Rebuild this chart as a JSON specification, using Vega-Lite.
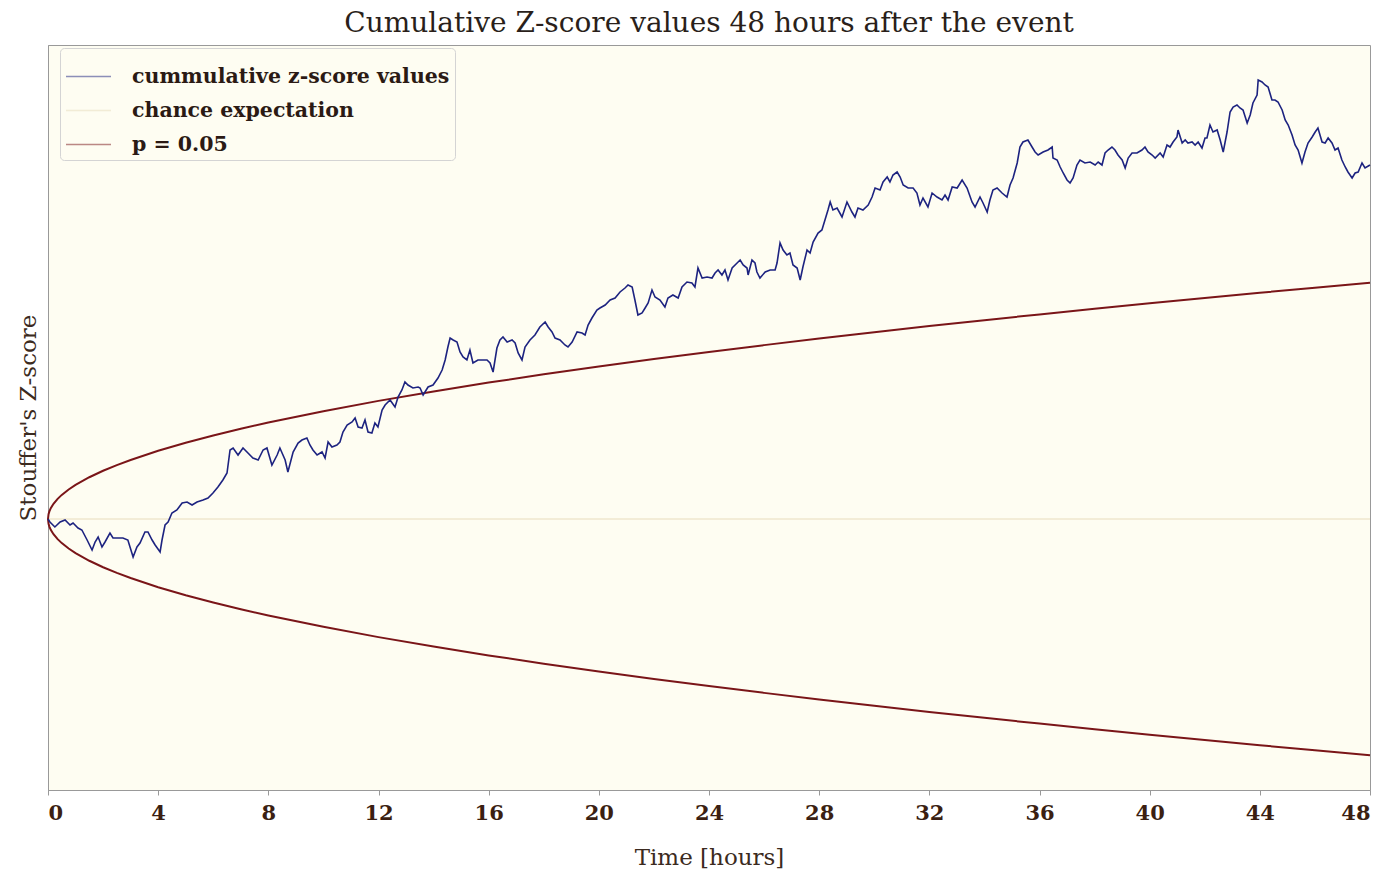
{
  "$schema": "https://vega.github.io/schema/vega-lite/v6.json",
  "width": 1322,
  "height": 745,
  "autosize": {"type": "none"},
  "padding": {"left": 48, "top": 45, "right": 19, "bottom": 82},
  "background": "#ffffff",
  "title": {"text": "Cumulative Z-score values 48 hours after the event", "font": "DejaVu Serif", "fontSize": 28, "fontWeight": "normal", "color": "#2a1f1a", "offset": 7, "anchor": "middle"},
  "config": {
    "view": {"fill": "#fefdf2", "stroke": "#999999", "strokeWidth": 1},
    "axis": {"grid": false}
  },
  "datasets": {
    "chance": [{"t": 0, "z": 0}, {"t": 48, "z": 0}],
    "env": [
      {"t": 0, "z": 0, "b": "u"}, {"t": 0.02, "z": 4.82, "b": "u"}, {"t": 0.05, "z": 7.62, "b": "u"}, {"t": 0.1, "z": 10.78, "b": "u"}, {"t": 0.2, "z": 15.25, "b": "u"}, {"t": 0.35, "z": 20.17, "b": "u"}, {"t": 0.5, "z": 24.11, "b": "u"}, {"t": 0.75, "z": 29.53, "b": "u"}, {"t": 1, "z": 34.1, "b": "u"}, {"t": 1.5, "z": 41.76, "b": "u"}, {"t": 2, "z": 48.22, "b": "u"}, {"t": 2.5, "z": 53.92, "b": "u"}, {"t": 3, "z": 59.06, "b": "u"}, {"t": 4, "z": 68.2, "b": "u"}, {"t": 5, "z": 76.25, "b": "u"}, {"t": 6, "z": 83.53, "b": "u"}, {"t": 7, "z": 90.22, "b": "u"}, {"t": 8, "z": 96.45, "b": "u"}, {"t": 10, "z": 107.83, "b": "u"}, {"t": 12, "z": 118.13, "b": "u"}, {"t": 14, "z": 127.59, "b": "u"}, {"t": 16, "z": 136.4, "b": "u"}, {"t": 18, "z": 144.67, "b": "u"}, {"t": 20, "z": 152.5, "b": "u"}, {"t": 22, "z": 159.94, "b": "u"}, {"t": 24, "z": 167.06, "b": "u"}, {"t": 26, "z": 173.88, "b": "u"}, {"t": 28, "z": 180.44, "b": "u"}, {"t": 30, "z": 186.77, "b": "u"}, {"t": 32, "z": 192.9, "b": "u"}, {"t": 34, "z": 198.84, "b": "u"}, {"t": 36, "z": 204.6, "b": "u"}, {"t": 38, "z": 210.21, "b": "u"}, {"t": 40, "z": 215.67, "b": "u"}, {"t": 42, "z": 220.99, "b": "u"}, {"t": 44, "z": 226.19, "b": "u"}, {"t": 46, "z": 231.28, "b": "u"}, {"t": 48, "z": 236.25, "b": "u"},
      {"t": 0, "z": 0, "b": "l"}, {"t": 0.02, "z": -4.82, "b": "l"}, {"t": 0.05, "z": -7.62, "b": "l"}, {"t": 0.1, "z": -10.78, "b": "l"}, {"t": 0.2, "z": -15.25, "b": "l"}, {"t": 0.35, "z": -20.17, "b": "l"}, {"t": 0.5, "z": -24.11, "b": "l"}, {"t": 0.75, "z": -29.53, "b": "l"}, {"t": 1, "z": -34.1, "b": "l"}, {"t": 1.5, "z": -41.76, "b": "l"}, {"t": 2, "z": -48.22, "b": "l"}, {"t": 2.5, "z": -53.92, "b": "l"}, {"t": 3, "z": -59.06, "b": "l"}, {"t": 4, "z": -68.2, "b": "l"}, {"t": 5, "z": -76.25, "b": "l"}, {"t": 6, "z": -83.53, "b": "l"}, {"t": 7, "z": -90.22, "b": "l"}, {"t": 8, "z": -96.45, "b": "l"}, {"t": 10, "z": -107.83, "b": "l"}, {"t": 12, "z": -118.13, "b": "l"}, {"t": 14, "z": -127.59, "b": "l"}, {"t": 16, "z": -136.4, "b": "l"}, {"t": 18, "z": -144.67, "b": "l"}, {"t": 20, "z": -152.5, "b": "l"}, {"t": 22, "z": -159.94, "b": "l"}, {"t": 24, "z": -167.06, "b": "l"}, {"t": 26, "z": -173.88, "b": "l"}, {"t": 28, "z": -180.44, "b": "l"}, {"t": 30, "z": -186.77, "b": "l"}, {"t": 32, "z": -192.9, "b": "l"}, {"t": 34, "z": -198.84, "b": "l"}, {"t": 36, "z": -204.6, "b": "l"}, {"t": 38, "z": -210.21, "b": "l"}, {"t": 40, "z": -215.67, "b": "l"}, {"t": 42, "z": -220.99, "b": "l"}, {"t": 44, "z": -226.19, "b": "l"}, {"t": 46, "z": -231.28, "b": "l"}, {"t": 48, "z": -236.25, "b": "l"}
    ],
    "walk": [
      {"t": 0, "z": 0}, {"t": 0.07, "z": -3}, {"t": 0.25, "z": -8}, {"t": 0.44, "z": -3}, {"t": 0.62, "z": -1}, {"t": 0.8, "z": -6}, {"t": 0.91, "z": -4}, {"t": 1.09, "z": -9}, {"t": 1.23, "z": -11}, {"t": 1.42, "z": -21}, {"t": 1.6, "z": -31}, {"t": 1.71, "z": -23}, {"t": 1.82, "z": -18}, {"t": 1.96, "z": -28}, {"t": 2.07, "z": -23}, {"t": 2.25, "z": -14}, {"t": 2.36, "z": -19}, {"t": 2.54, "z": -19}, {"t": 2.72, "z": -19}, {"t": 2.9, "z": -21}, {"t": 3.09, "z": -38}, {"t": 3.23, "z": -28}, {"t": 3.34, "z": -24}, {"t": 3.52, "z": -13}, {"t": 3.63, "z": -13}, {"t": 3.78, "z": -21}, {"t": 3.89, "z": -26}, {"t": 4.07, "z": -33}, {"t": 4.14, "z": -21}, {"t": 4.25, "z": -6}, {"t": 4.36, "z": -3}, {"t": 4.5, "z": 6}, {"t": 4.68, "z": 9}, {"t": 4.87, "z": 16}, {"t": 5.05, "z": 17}, {"t": 5.23, "z": 14}, {"t": 5.41, "z": 17}, {"t": 5.63, "z": 19}, {"t": 5.81, "z": 21}, {"t": 5.99, "z": 26}, {"t": 6.17, "z": 32}, {"t": 6.35, "z": 39}, {"t": 6.5, "z": 46},
      {"t": 6.61, "z": 69}, {"t": 6.72, "z": 71}, {"t": 6.9, "z": 64}, {"t": 7.08, "z": 71}, {"t": 7.26, "z": 66}, {"t": 7.44, "z": 61}, {"t": 7.63, "z": 59}, {"t": 7.81, "z": 69}, {"t": 7.95, "z": 71}, {"t": 8.13, "z": 54}, {"t": 8.32, "z": 64}, {"t": 8.42, "z": 71}, {"t": 8.61, "z": 59}, {"t": 8.71, "z": 47}, {"t": 8.9, "z": 67}, {"t": 9.08, "z": 76}, {"t": 9.22, "z": 79}, {"t": 9.4, "z": 81}, {"t": 9.51, "z": 74}, {"t": 9.62, "z": 69}, {"t": 9.77, "z": 64}, {"t": 9.95, "z": 67}, {"t": 10.06, "z": 61}, {"t": 10.17, "z": 77}, {"t": 10.31, "z": 72}, {"t": 10.49, "z": 74}, {"t": 10.6, "z": 77}, {"t": 10.71, "z": 87}, {"t": 10.86, "z": 94}, {"t": 11.04, "z": 97}, {"t": 11.15, "z": 101}, {"t": 11.26, "z": 92}, {"t": 11.4, "z": 91}, {"t": 11.51, "z": 99}, {"t": 11.62, "z": 87}, {"t": 11.76, "z": 86}, {"t": 11.87, "z": 96}, {"t": 11.98, "z": 92}, {"t": 12.13, "z": 109}, {"t": 12.24, "z": 114}, {"t": 12.42, "z": 119}, {"t": 12.6, "z": 112}, {"t": 12.71, "z": 122}, {"t": 12.85, "z": 129}, {"t": 12.96, "z": 137}, {"t": 13.07, "z": 134}, {"t": 13.25, "z": 131}, {"t": 13.44, "z": 132},
      {"t": 13.51, "z": 131}, {"t": 13.62, "z": 124}, {"t": 13.8, "z": 132}, {"t": 13.98, "z": 134}, {"t": 14.16, "z": 141}, {"t": 14.31, "z": 149}, {"t": 14.42, "z": 159}, {"t": 14.52, "z": 172}, {"t": 14.6, "z": 181}, {"t": 14.71, "z": 179}, {"t": 14.85, "z": 177}, {"t": 14.96, "z": 167}, {"t": 15.07, "z": 162}, {"t": 15.21, "z": 159}, {"t": 15.32, "z": 169}, {"t": 15.43, "z": 156}, {"t": 15.61, "z": 159}, {"t": 15.8, "z": 159}, {"t": 15.94, "z": 159}, {"t": 16.05, "z": 156}, {"t": 16.16, "z": 147}, {"t": 16.3, "z": 171}, {"t": 16.41, "z": 179}, {"t": 16.52, "z": 182}, {"t": 16.67, "z": 177}, {"t": 16.85, "z": 179}, {"t": 16.96, "z": 176}, {"t": 17.07, "z": 166}, {"t": 17.21, "z": 159}, {"t": 17.32, "z": 172}, {"t": 17.5, "z": 179}, {"t": 17.68, "z": 184}, {"t": 17.86, "z": 192}, {"t": 18.05, "z": 197}, {"t": 18.16, "z": 192}, {"t": 18.3, "z": 187}, {"t": 18.41, "z": 181}, {"t": 18.59, "z": 179}, {"t": 18.77, "z": 174}, {"t": 18.88, "z": 172}, {"t": 19.03, "z": 177}, {"t": 19.21, "z": 187}, {"t": 19.39, "z": 186}, {"t": 19.5, "z": 184}, {"t": 19.61, "z": 194}, {"t": 19.75, "z": 201}, {"t": 19.93, "z": 209}, {"t": 20.04, "z": 211}, {"t": 20.23, "z": 214}, {"t": 20.41, "z": 219}, {"t": 20.59, "z": 221}, {"t": 20.77, "z": 227}, {"t": 20.95, "z": 231},
      {"t": 21.06, "z": 234}, {"t": 21.21, "z": 232}, {"t": 21.31, "z": 219}, {"t": 21.42, "z": 204}, {"t": 21.57, "z": 206}, {"t": 21.68, "z": 211}, {"t": 21.79, "z": 216}, {"t": 21.93, "z": 229}, {"t": 22.04, "z": 222}, {"t": 22.22, "z": 219}, {"t": 22.4, "z": 212}, {"t": 22.51, "z": 221}, {"t": 22.69, "z": 224}, {"t": 22.88, "z": 221}, {"t": 23.02, "z": 232}, {"t": 23.2, "z": 237}, {"t": 23.38, "z": 236}, {"t": 23.49, "z": 232}, {"t": 23.6, "z": 251}, {"t": 23.75, "z": 241}, {"t": 23.93, "z": 242}, {"t": 24.11, "z": 241}, {"t": 24.22, "z": 246}, {"t": 24.33, "z": 249}, {"t": 24.47, "z": 244}, {"t": 24.58, "z": 249}, {"t": 24.69, "z": 239}, {"t": 24.84, "z": 251}, {"t": 25.02, "z": 256}, {"t": 25.13, "z": 259}, {"t": 25.24, "z": 254}, {"t": 25.38, "z": 251}, {"t": 25.42, "z": 244}, {"t": 25.56, "z": 259}, {"t": 25.67, "z": 256}, {"t": 25.74, "z": 247}, {"t": 25.85, "z": 241}, {"t": 26.04, "z": 247}, {"t": 26.22, "z": 249}, {"t": 26.4, "z": 249}, {"t": 26.47, "z": 256}, {"t": 26.58, "z": 276}, {"t": 26.69, "z": 269}, {"t": 26.83, "z": 264}, {"t": 26.94, "z": 266}, {"t": 27.05, "z": 254}, {"t": 27.2, "z": 251}, {"t": 27.31, "z": 239}, {"t": 27.41, "z": 252}, {"t": 27.56, "z": 269}, {"t": 27.67, "z": 266}, {"t": 27.78, "z": 277}, {"t": 27.96, "z": 286}, {"t": 28.1, "z": 289}, {"t": 28.21, "z": 299}, {"t": 28.32, "z": 309},
      {"t": 28.4, "z": 317}, {"t": 28.5, "z": 309}, {"t": 28.65, "z": 311}, {"t": 28.83, "z": 302}, {"t": 29.01, "z": 317}, {"t": 29.19, "z": 307}, {"t": 29.3, "z": 302}, {"t": 29.41, "z": 311}, {"t": 29.59, "z": 309}, {"t": 29.78, "z": 314}, {"t": 29.92, "z": 322}, {"t": 30.03, "z": 331}, {"t": 30.21, "z": 329}, {"t": 30.32, "z": 337}, {"t": 30.47, "z": 342}, {"t": 30.57, "z": 337}, {"t": 30.68, "z": 344}, {"t": 30.83, "z": 347}, {"t": 30.94, "z": 342}, {"t": 31.05, "z": 334}, {"t": 31.23, "z": 331}, {"t": 31.41, "z": 331}, {"t": 31.55, "z": 326}, {"t": 31.66, "z": 314}, {"t": 31.77, "z": 321}, {"t": 31.95, "z": 312}, {"t": 32.1, "z": 326}, {"t": 32.28, "z": 322}, {"t": 32.46, "z": 319}, {"t": 32.57, "z": 324}, {"t": 32.68, "z": 319}, {"t": 32.83, "z": 332}, {"t": 33.01, "z": 331}, {"t": 33.19, "z": 339}, {"t": 33.37, "z": 331}, {"t": 33.55, "z": 317}, {"t": 33.66, "z": 312}, {"t": 33.84, "z": 322}, {"t": 33.95, "z": 316}, {"t": 34.1, "z": 307}, {"t": 34.2, "z": 319}, {"t": 34.31, "z": 329}, {"t": 34.46, "z": 331}, {"t": 34.64, "z": 326}, {"t": 34.82, "z": 322}, {"t": 34.93, "z": 334}, {"t": 35.04, "z": 341}, {"t": 35.19, "z": 356}, {"t": 35.29, "z": 372}, {"t": 35.4, "z": 377}, {"t": 35.58, "z": 379}, {"t": 35.73, "z": 372}, {"t": 35.84, "z": 367},
      {"t": 35.95, "z": 364}, {"t": 36.13, "z": 367}, {"t": 36.31, "z": 369}, {"t": 36.46, "z": 372}, {"t": 36.49, "z": 361}, {"t": 36.64, "z": 359}, {"t": 36.75, "z": 352}, {"t": 36.86, "z": 346}, {"t": 37.0, "z": 339}, {"t": 37.11, "z": 336}, {"t": 37.22, "z": 341}, {"t": 37.36, "z": 354}, {"t": 37.47, "z": 359}, {"t": 37.65, "z": 356}, {"t": 37.84, "z": 357}, {"t": 38.02, "z": 354}, {"t": 38.13, "z": 357}, {"t": 38.27, "z": 354}, {"t": 38.38, "z": 366}, {"t": 38.49, "z": 369}, {"t": 38.63, "z": 372}, {"t": 38.74, "z": 369}, {"t": 38.85, "z": 364}, {"t": 39.0, "z": 359}, {"t": 39.11, "z": 351}, {"t": 39.22, "z": 361}, {"t": 39.36, "z": 366}, {"t": 39.54, "z": 366}, {"t": 39.72, "z": 369}, {"t": 39.83, "z": 372}, {"t": 39.94, "z": 367}, {"t": 40.09, "z": 364}, {"t": 40.2, "z": 361}, {"t": 40.38, "z": 366}, {"t": 40.49, "z": 362}, {"t": 40.63, "z": 374}, {"t": 40.74, "z": 372}, {"t": 40.85, "z": 377}, {"t": 40.99, "z": 382}, {"t": 41.03, "z": 389}, {"t": 41.18, "z": 376}, {"t": 41.29, "z": 379}, {"t": 41.39, "z": 376}, {"t": 41.54, "z": 377}, {"t": 41.65, "z": 374}, {"t": 41.76, "z": 377}, {"t": 41.9, "z": 371}, {"t": 42.01, "z": 381},
      {"t": 42.08, "z": 381}, {"t": 42.19, "z": 394}, {"t": 42.3, "z": 387}, {"t": 42.45, "z": 389}, {"t": 42.56, "z": 379}, {"t": 42.67, "z": 367}, {"t": 42.81, "z": 387}, {"t": 42.92, "z": 407}, {"t": 43.03, "z": 412}, {"t": 43.17, "z": 414}, {"t": 43.28, "z": 411}, {"t": 43.39, "z": 409}, {"t": 43.54, "z": 396}, {"t": 43.65, "z": 404}, {"t": 43.75, "z": 416}, {"t": 43.9, "z": 424}, {"t": 43.94, "z": 439}, {"t": 44.08, "z": 437}, {"t": 44.19, "z": 434}, {"t": 44.3, "z": 432}, {"t": 44.44, "z": 419}, {"t": 44.55, "z": 419}, {"t": 44.66, "z": 417}, {"t": 44.81, "z": 409}, {"t": 44.92, "z": 399}, {"t": 45.03, "z": 394}, {"t": 45.17, "z": 384}, {"t": 45.28, "z": 374}, {"t": 45.39, "z": 369}, {"t": 45.53, "z": 356}, {"t": 45.64, "z": 367}, {"t": 45.75, "z": 376}, {"t": 45.9, "z": 382}, {"t": 46.01, "z": 387}, {"t": 46.11, "z": 391}, {"t": 46.26, "z": 377}, {"t": 46.37, "z": 376}, {"t": 46.48, "z": 381}, {"t": 46.62, "z": 376}, {"t": 46.73, "z": 369}, {"t": 46.84, "z": 371}, {"t": 46.98, "z": 359}, {"t": 47.1, "z": 352}, {"t": 47.2, "z": 347}, {"t": 47.35, "z": 341}, {"t": 47.46, "z": 346}, {"t": 47.57, "z": 347}, {"t": 47.71, "z": 356}, {"t": 47.82, "z": 351}, {"t": 48.0, "z": 354}
    ]
  },
  "encoding": {
    "x": {"field": "t", "type": "quantitative", "scale": {"domain": [0, 48], "nice": false, "zero": false},
      "axis": {"title": "Time [hours]", "values": [0, 4, 8, 12, 16, 20, 24, 28, 32, 36, 40, 44, 48], "domainColor": "#999999", "tickColor": "#999999", "tickSize": 5, "labelFont": "DejaVu Serif", "labelFontWeight": "bold", "labelFontSize": 21, "labelColor": "#3b1f12", "labelPadding": 7, "titleFont": "DejaVu Serif", "titleFontWeight": "normal", "titleFontSize": 23, "titleColor": "#3b2a20", "titlePadding": 23}},
    "y": {"field": "z", "type": "quantitative", "scale": {"domain": [-271, 474], "nice": false, "zero": false},
      "axis": {"title": "Stouffer's Z-score", "labels": false, "ticks": false, "domainColor": "#999999", "titleFont": "DejaVu Serif", "titleFontWeight": "normal", "titleFontSize": 23, "titleColor": "#3b2a20", "titlePadding": 8}}
  },
  "layer": [
    {"data": {"name": "chance"}, "mark": {"type": "line", "strokeWidth": 1}, "encoding": {"color": {"datum": "chance expectation"}}},
    {"data": {"name": "env"}, "mark": {"type": "line", "strokeWidth": 2}, "encoding": {"detail": {"field": "b"}, "color": {"datum": "p = 0.05"}}},
    {"data": {"name": "walk"}, "mark": {"type": "line", "strokeWidth": 1.6}, "encoding": {"color": {"datum": "cummulative z-score values",
      "scale": {"domain": ["cummulative z-score values", "chance expectation", "p = 0.05"], "range": ["#1d2380", "#e8dcbc", "#7a1518"]},
      "legend": {"title": null, "orient": "none", "legendX": 12, "legendY": 3, "symbolType": "stroke", "symbolSize": 2025, "symbolStrokeWidth": 1.3, "symbolOpacity": 0.5, "labelFont": "DejaVu Serif", "labelFontWeight": "bold", "labelFontSize": 20.5, "labelColor": "#2b1a14", "labelOffset": 20, "rowPadding": 0, "padding": 5, "strokeColor": "#d4d4d4", "fillColor": "#fefdf2", "cornerRadius": 4, "labelLimit": 500}}}}
  ]
}
